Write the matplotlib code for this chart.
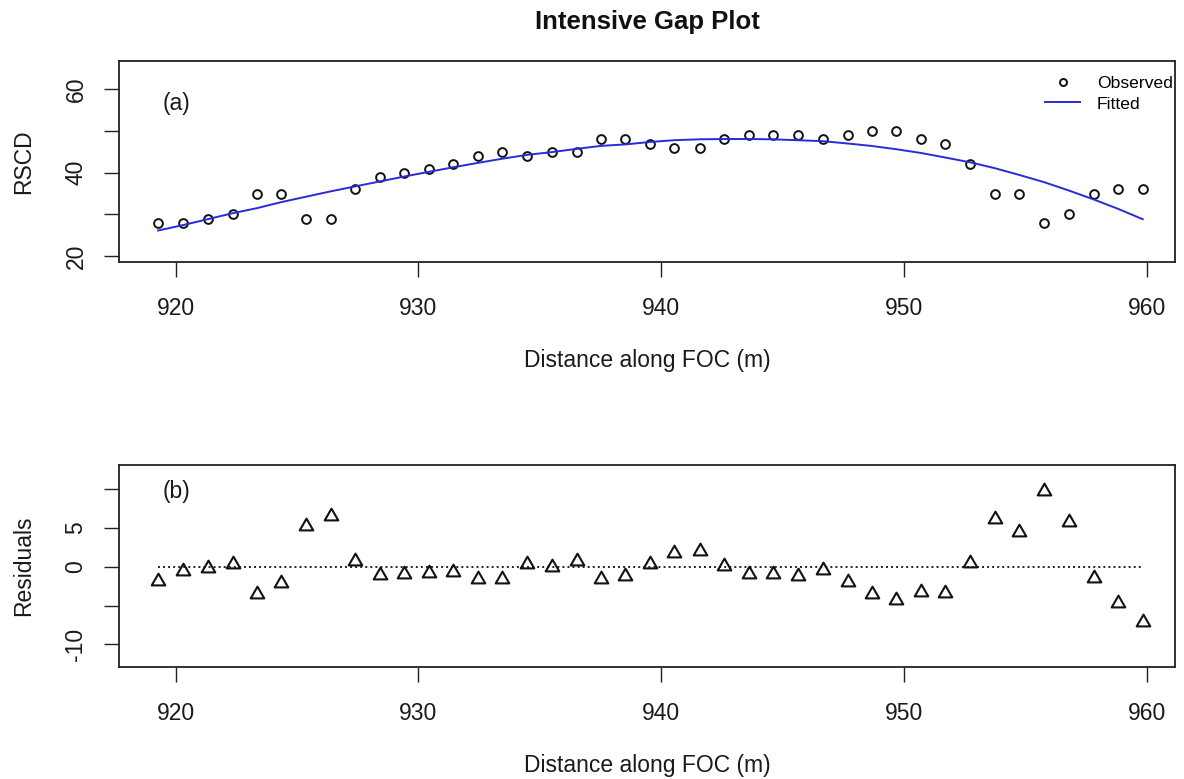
import numpy as np
import matplotlib
matplotlib.use('Agg')
import matplotlib.pyplot as plt
from matplotlib.path import Path

plt.rcParams['font.family'] = ['Liberation Sans', 'DejaVu Sans']

# 資料
distance = [919.28, 920.30, 921.33, 922.35, 923.36, 924.34, 925.37, 926.39, 927.40, 928.42,
            929.42, 930.45, 931.43, 932.46, 933.46, 934.49, 935.51, 936.52, 937.53, 938.53,
            939.56, 940.55, 941.59, 942.61, 943.63, 944.63, 945.65, 946.68, 947.68, 948.67,
            949.67, 950.72, 951.71, 952.72, 953.74, 954.76, 955.77, 956.79, 957.83, 958.82,
            959.84]
observed = [28, 28, 29, 30, 35, 35, 29, 29, 36, 39, 40, 41, 42, 44, 45, 44, 45, 45, 48, 48,
            47, 46, 46, 48, 49, 49, 49, 48, 49, 50, 50, 48, 47, 42, 35, 35, 28, 30, 35, 36, 36]
# residuals = fitted - observed
residuals = [-1.85, -0.56, -0.13, 0.30, -3.48, -2.06, 5.25, 6.54, 0.73, -1.08,
             -0.90, -0.77, -0.69, -1.63, -1.63, 0.30, -0.04, 0.73, -1.55, -1.20,
             0.39, 1.81, 2.02, 0.09, -0.90, -0.99, -1.20, -0.43, -1.98, -3.57,
             -4.34, -3.27, -3.35, 0.52, 6.11, 4.47, 9.76, 5.76, -1.42, -4.64,
             -7.14]
fitted = np.array(observed) + np.array(residuals)

top_ticks = [20, 30, 40, 50, 60]
top_labels = ['20', '', '40', '', '60']
bot_ticks = [-10, -5, 0, 5, 10]
bot_labels = ['-10', '', '0', '5', '']
x_ticks = [920, 930, 940, 950, 960]

W, H = 1184, 779
fig = plt.figure(figsize=(W / 100, H / 100), dpi=100)

# R 風格的等邊三角形 (pch = 2)
tri = Path([(-1, -0.577), (1, -0.577), (0, 1.155), (0, 0)],
           [Path.MOVETO, Path.LINETO, Path.LINETO, Path.CLOSEPOLY])


def px_axes(left, top, right, bottom):
    return fig.add_axes([left / W, 1 - bottom / H, (right - left) / W, (bottom - top) / H])


def style_axes(ax, yticks, ylabels, ylim):
    ax.set_xlim(917.67, 961.17)
    ax.set_ylim(*ylim)
    ax.set_xticks(x_ticks)
    ax.set_xticklabels([str(t) for t in x_ticks])
    ax.set_yticks(yticks)
    ax.set_yticklabels(ylabels, rotation=90, va='center')
    for s in ax.spines.values():
        s.set_linewidth(1.3)
        s.set_color('#222222')
    ax.tick_params(axis='both', direction='out', length=10.5, width=1.0,
                   color='#222222', labelsize=16.5, labelcolor='#1a1a1a')
    ax.tick_params(axis='x', pad=14.4)
    ax.tick_params(axis='y', pad=12.2)


# (a) 觀測值與擬合曲線
ax1 = px_axes(119, 61, 1175, 262)
ax1.plot(distance, observed, linestyle='none', marker='o', ms=6.3, mfc='none',
         mec='#111111', mew=1.4, label='Observed')
ax1.plot(distance, fitted, color='#2a2ad8', lw=1.4, label='Fitted')
style_axes(ax1, top_ticks, top_labels, (18.6, 66.8))
ax1.text(0.041, 0.79, '(a)', transform=ax1.transAxes, ha='left', va='center',
         fontsize=16.5, color='#1a1a1a')
leg = ax1.legend(loc='upper right', bbox_to_anchor=(0.998, 0.926), frameon=False,
                 fontsize=12.6, borderpad=0, borderaxespad=0, handlelength=2.0,
                 handletextpad=0.95, labelspacing=0.3, markerscale=0.8)

# (b) 殘差
ax2 = px_axes(119, 465, 1175, 667)
ax2.plot([distance[0], distance[-1]], [0, 0], color='#222222', lw=1.4,
         linestyle=(0, (1.0, 1.6)))
ax2.plot(distance, residuals, linestyle='none', marker=tri, ms=11.3, mfc='none',
         mec='#111111', mew=1.5)
style_axes(ax2, bot_ticks, bot_labels, (-12.93, 13.14))
ax2.text(0.041, 0.868, '(b)', transform=ax2.transAxes, ha='left', va='center',
         fontsize=16.5, color='#1a1a1a')

# 標題與軸標籤
fig.text(647 / W, 1 - 29.5 / H, 'Intensive Gap Plot', ha='center', va='baseline',
         fontsize=18.5, fontweight='bold', color='#111111')
fig.text(647 / W, 1 - 367 / H, 'Distance along FOC (m)', ha='center', va='baseline',
         fontsize=16.5, color='#1a1a1a')
fig.text(647 / W, 1 - 772 / H, 'Distance along FOC (m)', ha='center', va='baseline',
         fontsize=16.5, color='#1a1a1a')
fig.text(24 / W, 1 - 162 / H, 'RSCD', rotation=90, ha='center', va='center',
         fontsize=16.5, color='#1a1a1a')
fig.text(24 / W, 1 - 566 / H, 'Residuals', rotation=90, ha='center', va='center',
         fontsize=16.5, color='#1a1a1a')

fig.savefig('out.png', dpi=100)
